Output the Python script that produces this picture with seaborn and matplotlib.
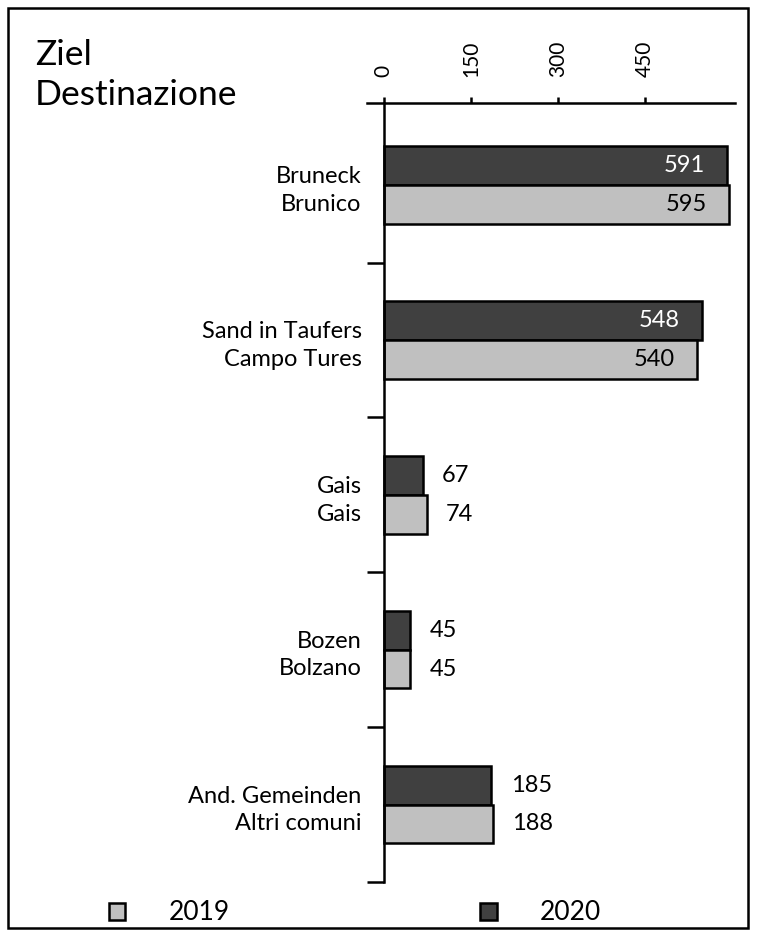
import numpy as np
import pandas as pd
import matplotlib.pyplot as plt
import seaborn as sns
from matplotlib.patches import Rectangle
from matplotlib.ticker import FixedLocator

# Daten
ziele = ["Bruneck\nBrunico", "Sand in Taufers\nCampo Tures", "Gais\nGais",
         "Bozen\nBolzano", "And. Gemeinden\nAltri comuni"]
werte_2020 = [591, 548, 67, 45, 185]
werte_2019 = [595, 540, 74, 45, 188]
jahre = ["2020", "2019"]
x_ticks = [0, 150, 300, 450]

df = pd.DataFrame({
    "Ziel": ziele * 2,
    "Jahr": ["2020"] * len(ziele) + ["2019"] * len(ziele),
    "Wert": werte_2020 + werte_2019,
})

sns.set_style("white")
plt.rcParams["font.family"] = ["Lato", "DejaVu Sans"]
plt.rcParams.update({"text.color": "black", "axes.edgecolor": "black",
                     "xtick.color": "black", "ytick.color": "black",
                     "axes.labelcolor": "black"})

fig = plt.figure(figsize=(7.57, 9.33), dpi=100)
ax = fig.add_axes([367 / 757, 51 / 933, 368 / 757, 779 / 933])

farben = {"2020": "#404040", "2019": "#c0c0c0"}
sns.barplot(data=df, y="Ziel", x="Wert", hue="Jahr", hue_order=jahre,
            palette=farben, orient="h", width=0.5, edgecolor="black",
            linewidth=1.8, ax=ax)

ax.set_xlim(-29, 605)
ax.set_ylim(4.5, -0.53)
ax.set_xlabel("")
ax.set_ylabel("")

# Achsen
for s in ["right", "bottom"]:
    ax.spines[s].set_visible(False)
ax.spines["left"].set_position(("data", 0))
ax.spines["left"].set_linewidth(1.8)
ax.spines["top"].set_linewidth(1.8)

ax.xaxis.tick_top()
ax.set_xticks(x_ticks)
ax.set_xticklabels([str(t) for t in x_ticks], rotation=90, fontsize=15)
ax.tick_params(axis="x", top=True, length=4.5, width=1.8, pad=14,
               direction="out", colors="black")

ax.set_yticks(range(len(ziele)))
ax.set_yticklabels(ziele, fontsize=17, ha="right")
for lbl in ax.get_yticklabels():
    lbl.set_linespacing(1.4)
ax.tick_params(axis="y", which="major", length=0, pad=16, labelcolor="black")
ax.yaxis.set_minor_locator(FixedLocator(np.arange(0.5, len(ziele), 1)))
ax.tick_params(axis="y", which="minor", left=True, length=12, width=1.8,
               direction="out", color="black")

# Werte beschriften
for cont, jahr in zip(ax.containers, jahre):
    for bar in cont:
        w = bar.get_width()
        yc = bar.get_y() + bar.get_height() / 2
        if w > 300:
            ax.annotate(f"{w:.0f}", (w, yc), xytext=(-16, 0),
                        textcoords="offset points", ha="right", va="center",
                        fontsize=17,
                        color="white" if jahr == "2020" else "black")
        else:
            ax.annotate(f"{w:.0f}", (w, yc), xytext=(14, 0),
                        textcoords="offset points", ha="left", va="center",
                        fontsize=17, color="black")

# Legende
handles, labels = ax.get_legend_handles_labels()
ax.get_legend().remove()
fig.legend(handles[::-1], labels[::-1], loc="center",
           bbox_to_anchor=(355 / 757, 20 / 933), ncol=2, frameon=False,
           fontsize=19, handlelength=0.62, handleheight=0.62,
           handletextpad=1.65, columnspacing=9.5, labelcolor="black")

# Titel
fig.text(35 / 757, 1 - 39 / 933, "Ziel\nDestinazione", fontsize=25.5,
         ha="left", va="top", linespacing=1.3, color="black")

# Rahmen
fig.patches.append(Rectangle((8 / 757, 5 / 933), 740 / 757, 920 / 933,
                             transform=fig.transFigure, fill=False,
                             edgecolor="black", linewidth=1.8))

fig.savefig("out.png", dpi=100)
